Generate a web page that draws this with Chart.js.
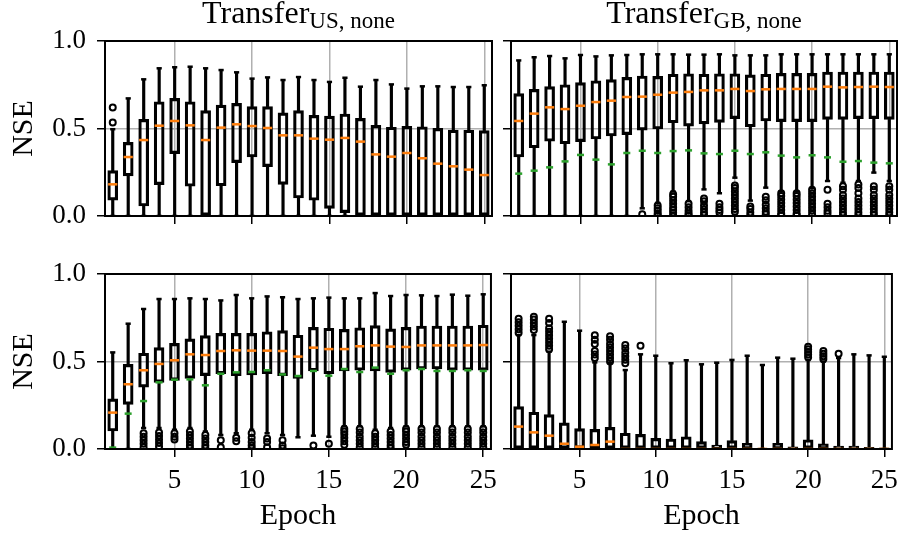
<!DOCTYPE html>
<html>
<head>
<meta charset="utf-8">
<script src="https://cdn.jsdelivr.net/npm/chart.js@4.4.0/dist/chart.umd.min.js"></script>
<style>
html, body { margin: 0; padding: 0; background: #fff; }
#wrap { position: relative; width: 906px; height: 536px; overflow: hidden; font-family: 'Liberation Serif', serif; }
canvas { position: absolute; }
.ttl { position: absolute; top: -4px; font-size: 32px; line-height: 32px; text-align: center; color: #000; white-space: nowrap; }
.ttl span { font-size: 23px; position: relative; top: 5px; }
</style>
</head>
<body>
<div id="wrap">
  <canvas id="tl" width="505" height="231" style="left:0;top:13px"></canvas>
  <canvas id="tr" width="406" height="231" style="left:500px;top:13px"></canvas>
  <canvas id="bl" width="505" height="290" style="left:0;top:246px"></canvas>
  <canvas id="br" width="406" height="290" style="left:500px;top:246px"></canvas>
  <div class="ttl" style="left:105px;width:387px">Transfer<span>US, none</span></div>
  <div class="ttl" style="left:511px;width:386px">Transfer<span>GB, none</span></div>
</div>
<script>
const epochs = [1,2,3,4,5,6,7,8,9,10,11,12,13,14,15,16,17,18,19,20,21,22,23,24,25];
const xTicks = [5, 10, 15, 20, 25];
const yTicks = [0, 0.5, 1];

// top left: Transfer US, none
const tlHi  = [0.496,0.672,0.781,0.844,0.850,0.853,0.844,0.834,0.821,0.785,0.792,0.777,0.794,0.777,0.766,0.790,0.739,0.777,0.752,0.728,0.741,0.741,0.737,0.737,0.747];
const tlQ3  = [0.259,0.421,0.552,0.653,0.672,0.653,0.602,0.634,0.644,0.625,0.625,0.589,0.602,0.575,0.571,0.583,0.558,0.518,0.507,0.512,0.510,0.501,0.491,0.490,0.488];
const tlMed = [0.181,0.337,0.434,0.516,0.543,0.518,0.434,0.505,0.524,0.514,0.503,0.461,0.461,0.442,0.436,0.446,0.425,0.352,0.339,0.360,0.330,0.299,0.284,0.265,0.234];
const tlQ1  = [0.091,0.229,0.057,0.179,0.356,0.170,0,0.173,0.305,0.337,0.282,0.181,0.103,0.090,0.044,0.019,0,0,0,0,0,0,0,0,0];
const tlLo  = [0,0,0,0,0,0,0,0,0,0,0,0,0,0,0,0,0,0,0,0,0,0,0,0,0];
const tlOut = [[0.62,0.535],[],[],[],[],[],[],[],[],[],[],[],[],[],[],[],[],[],[],[],[],[],[],[],[]];

// top right: Transfer GB, none
const trHi   = [0.889,0.907,0.914,0.901,0.920,0.912,0.918,0.920,0.924,0.924,0.924,0.922,0.922,0.924,0.918,0.918,0.918,0.924,0.924,0.924,0.924,0.924,0.924,0.924,0.924];
const trQ3   = [0.699,0.724,0.739,0.750,0.762,0.773,0.779,0.792,0.800,0.798,0.810,0.813,0.810,0.813,0.813,0.806,0.810,0.815,0.815,0.815,0.823,0.823,0.823,0.823,0.823];
const trMed  = [0.543,0.585,0.621,0.611,0.630,0.651,0.659,0.680,0.682,0.693,0.705,0.709,0.718,0.718,0.726,0.714,0.724,0.726,0.726,0.726,0.739,0.735,0.737,0.739,0.737];
const trQ1   = [0.337,0.390,0.427,0.413,0.425,0.440,0.457,0.465,0.491,0.497,0.533,0.514,0.526,0.535,0.556,0.510,0.543,0.539,0.539,0.539,0.552,0.552,0.556,0.556,0.552];
const trLo   = [0,0,0,0,0,0,0,0,0.044,0.075,0.14,0.085,0.152,0.13,0.219,0.088,0.162,0.14,0.14,0.16,0.2,0.19,0.2,0.248,0.2];
const trMean = [0.242,0.259,0.278,0.312,0.349,0.322,0.295,0.360,0.373,0.360,0.371,0.375,0.358,0.354,0.373,0.354,0.364,0.345,0.335,0.347,0.335,0.310,0.314,0.305,0.301];
const trOut  = [[],[],[],[],[],[],[],[],
  [0.01],
  [0.06,0.045,0.03,0.015,0.005],
  [0.125,0.11,0.09,0.07,0.05,0.035,0.02,0.005],
  [0.07,0.05,0.03,0.015,0.005],
  [0.1,0.085,0.06,0.04,0.02,0.005],
  [0.07,0.05,0.035,0.02],
  [0.175,0.16,0.14,0.12,0.1,0.08,0.06,0.04,0.025],
  [0.055,0.04,0.02,0.005],
  [0.11,0.09,0.065,0.045,0.025,0.01],
  [0.13,0.115,0.095,0.075,0.055,0.035,0.015,0.005],
  [0.13,0.115,0.095,0.075,0.055,0.035,0.015,0.005],
  [0.15,0.13,0.11,0.09,0.07,0.05,0.03,0.01],
  [0.15,0.07,0.05,0.03,0.015],
  [0.17,0.15,0.12,0.1,0.08,0.06,0.04,0.02,0.005],
  [0.18,0.16,0.13,0.1,0.08,0.06,0.04,0.02,0.005],
  [0.17,0.15,0.12,0.1,0.08,0.06,0.04,0.02,0.005],
  [0.17,0.15,0.12,0.1,0.08,0.06,0.04,0.02,0.005]];

// bottom left
const blHi   = [0.552,0.716,0.800,0.857,0.857,0.861,0.857,0.849,0.880,0.861,0.872,0.867,0.857,0.861,0.865,0.861,0.861,0.891,0.874,0.880,0.878,0.874,0.882,0.876,0.884];
const blQ3   = [0.286,0.484,0.547,0.579,0.604,0.629,0.648,0.661,0.661,0.661,0.670,0.676,0.650,0.695,0.690,0.684,0.693,0.705,0.686,0.695,0.703,0.703,0.703,0.703,0.707];
const blMed  = [0.208,0.370,0.450,0.486,0.507,0.541,0.537,0.560,0.564,0.562,0.562,0.560,0.528,0.579,0.571,0.571,0.587,0.592,0.585,0.583,0.592,0.592,0.592,0.592,0.594];
const blQ1   = [0.103,0.255,0.354,0.381,0.392,0.404,0.419,0.430,0.419,0.423,0.430,0.419,0.404,0.446,0.430,0.446,0.450,0.446,0.438,0.450,0.457,0.457,0.450,0.450,0.450];
const blLo   = [0,0,0.12,0.12,0.11,0.12,0.10,0.08,0.09,0.11,0.09,0.08,0.067,0.076,0.07,0.13,0.13,0.11,0.12,0.13,0.13,0.13,0.13,0.13,0.13];
const blMean = [0.008,0.202,0.274,0.381,0.396,0.398,0.364,0.430,0.438,0.440,0.450,0.426,0.417,0.446,0.419,0.457,0.440,0.465,0.430,0.450,0.457,0.446,0.446,0.450,0.446];
const blOut  = [[],[],
  [0.09,0.07,0.05,0.03,0.01],
  [0.095,0.075,0.055,0.035,0.015],
  [0.09,0.07,0.055],
  [0.1,0.08,0.06,0.04,0.02,0.005],
  [0.08,0.06,0.04,0.02,0.005],
  [0.05,0.01],
  [0.065,0.045],
  [0.09,0.065,0.04,0.02,0.005],
  [0.06,0.04,0.01],
  [0.05,0.02,0.005],
  [],
  [0.02],
  [0.03],
  [0.115,0.1,0.085,0.065,0.045,0.025],
  [0.115,0.095,0.07,0.05,0.03,0.01],
  [0.09,0.07,0.05,0.03,0.01],
  [0.1,0.08,0.06,0.04,0.02,0.005],
  [0.115,0.1,0.08,0.06,0.04,0.025],
  [0.115,0.095,0.07,0.05,0.03,0.01],
  [0.115,0.095,0.07,0.05,0.03,0.01],
  [0.115,0.095,0.07,0.05,0.03,0.01],
  [0.115,0.095,0.07,0.05,0.03,0.01],
  [0.115,0.095,0.07,0.05,0.03,0.01]];

// bottom right
const brHi  = [0.651,0.651,0.556,0.727,0.676,0.495,0.490,0.451,0.541,0.533,0.490,0.507,0.484,0.493,0.509,0.533,0.480,0.522,0.516,0.509,0.500,0.520,0.541,0.535,0.527];
const brQ3  = [0.242,0.210,0.196,0.149,0.116,0.112,0.124,0.090,0.084,0.061,0.057,0.070,0.042,0.023,0.048,0.032,0.005,0.032,0.013,0.053,0.030,0.017,0.017,0.010,0.006];
const brMed = [0.128,0.095,0.076,0.030,0.013,0.023,0.042,0,0,0,0,0,0,0,0,0,0,0,0,0,0,0,0,0,0];
const brQ1  = [0,0,0,0,0,0,0,0,0,0,0,0,0,0,0,0,0,0,0,0,0,0,0,0,0];
const brLo  = [0,0,0,0,0,0,0,0,0,0,0,0,0,0,0,0,0,0,0,0,0,0,0,0,0];
const brOut = [
  [0.665,0.685,0.705,0.725,0.745],
  [0.68,0.70,0.72,0.74,0.756],
  [0.57,0.59,0.61,0.63,0.65,0.67,0.69,0.72,0.745],
  [],[],
  [0.52,0.54,0.56,0.6,0.625,0.65],
  [0.5,0.52,0.54,0.56,0.58,0.6,0.625,0.645],
  [0.49,0.51,0.53,0.55,0.575,0.595],
  [0.59],
  [],[],[],[],[],[],[],[],[],[],
  [0.525,0.54,0.555,0.57,0.585],
  [0.515,0.53,0.545,0.56],
  [0.545],
  [],[],[]];

Chart.defaults.font.family = "'Liberation Serif', serif";
Chart.defaults.color = '#000';

// black frame round the plot area (all four spines)
const frame = {
  id: 'frame',
  afterDatasetsDraw(chart) {
    const {ctx, chartArea: a} = chart;
    ctx.save();
    ctx.strokeStyle = '#000';
    ctx.lineWidth = 2;
    ctx.strokeRect(a.left, a.top, a.right - a.left, a.bottom - a.top);
    ctx.restore();
  }
};

function boxSets(lo, q1, med, q3, hi, mean, out) {
  const pts = arr => arr.map((v, i) => ({x: epochs[i], y: v}));
  const sets = [
    {type: 'bar', order: 2, grouped: false, barThickness: 10, borderSkipped: false,
     backgroundColor: 'rgba(0,0,0,0)', borderColor: '#000', borderWidth: 2.5,
     data: epochs.map((e, i) => ({x: e, y: [q1[i], q3[i]]}))},
    {type: 'bar', order: 4, grouped: false, barThickness: 2.5, backgroundColor: '#000', borderWidth: 0,
     data: epochs.map((e, i) => ({x: e, y: [lo[i], q1[i]]}))},
    {type: 'bar', order: 4, grouped: false, barThickness: 2.5, backgroundColor: '#000', borderWidth: 0,
     data: epochs.map((e, i) => ({x: e, y: [q3[i], hi[i]]}))},
    {type: 'scatter', order: 3, pointStyle: 'line', pointRadius: 2.6, borderWidth: 2.5, borderColor: '#000',
     data: pts(lo).concat(pts(hi))},
    {type: 'scatter', order: 0, pointStyle: 'line', pointRadius: 4.6, borderWidth: 2.5, borderColor: '#ff7f0e',
     data: pts(med)},
    {type: 'scatter', order: 5, pointStyle: 'circle', pointRadius: 3, borderWidth: 2,
     borderColor: '#000', backgroundColor: 'rgba(0,0,0,0)',
     data: out.flatMap((vals, i) => vals.map(v => ({x: epochs[i], y: v})))}
  ];
  if (mean) {
    sets.push({type: 'scatter', order: 1, pointStyle: 'line', pointRadius: 3.5, borderWidth: 2.5,
      borderColor: '#2ca02c', data: pts(mean)});
  }
  return sets;
}

function panel(id, sets, opt) {
  new Chart(document.getElementById(id), {
    type: 'bar',
    data: {datasets: sets},
    plugins: [frame],
    options: {
      responsive: false,
      animation: false,
      events: [],
      layout: {padding: {top: 28, right: opt.padR, bottom: opt.padB, left: 0}},
      plugins: {legend: {display: false}, tooltip: {enabled: false}},
      scales: {
        x: {
          type: 'linear', min: 0.5, max: 25.5, offset: false,
          afterBuildTicks: s => { s.ticks = xTicks.map(v => ({value: v})); },
          afterFit: s => { s.height = opt.xH; },
          border: {display: false},
          grid: {offset: false, color: '#b0b0b0', lineWidth: 1.5, tickColor: '#000', tickWidth: 1.5, tickLength: 8},
          ticks: {autoSkip: false, maxRotation: 0, padding: 8, color: '#000', font: {size: 27},
                  callback: v => opt.xLabels ? String(v) : ''},
          title: {display: opt.xLabels, text: 'Epoch', color: '#000', font: {size: 30},
                  padding: {top: 0, bottom: 2}}
        },
        y: {
          type: 'linear', min: 0, max: 1,
          afterBuildTicks: s => { s.ticks = yTicks.map(v => ({value: v})); },
          afterFit: s => { s.width = opt.yW; },
          border: {display: false},
          grid: {color: '#b0b0b0', lineWidth: 1.5, tickColor: '#000', tickWidth: 1.5, tickLength: 8},
          ticks: {padding: 11, color: '#000', font: {size: 27},
                  callback: v => opt.yLabels ? v.toFixed(1) : ''},
          title: {display: opt.yLabels, text: 'NSE', color: '#000', font: {size: 30},
                  padding: {top: 6, bottom: 0}}
        }
      }
    }
  });
}

panel('tl', boxSets(tlLo, tlQ1, tlMed, tlQ3, tlHi, null, tlOut),
      {padR: 13, padB: 16, xH: 12, yW: 105, xLabels: false, yLabels: true});
panel('tr', boxSets(trLo, trQ1, trMed, trQ3, trHi, trMean, trOut),
      {padR: 9, padB: 16, xH: 12, yW: 11, xLabels: false, yLabels: false});
panel('bl', boxSets(blLo, blQ1, blMed, blQ3, blHi, blMean, blOut),
      {padR: 13, padB: 0, xH: 87, yW: 105, xLabels: true, yLabels: true});
panel('br', boxSets(brLo, brQ1, brMed, brQ3, brHi, null, brOut),
      {padR: 9, padB: 0, xH: 87, yW: 11, xLabels: true, yLabels: false});
</script>
</body>
</html>
